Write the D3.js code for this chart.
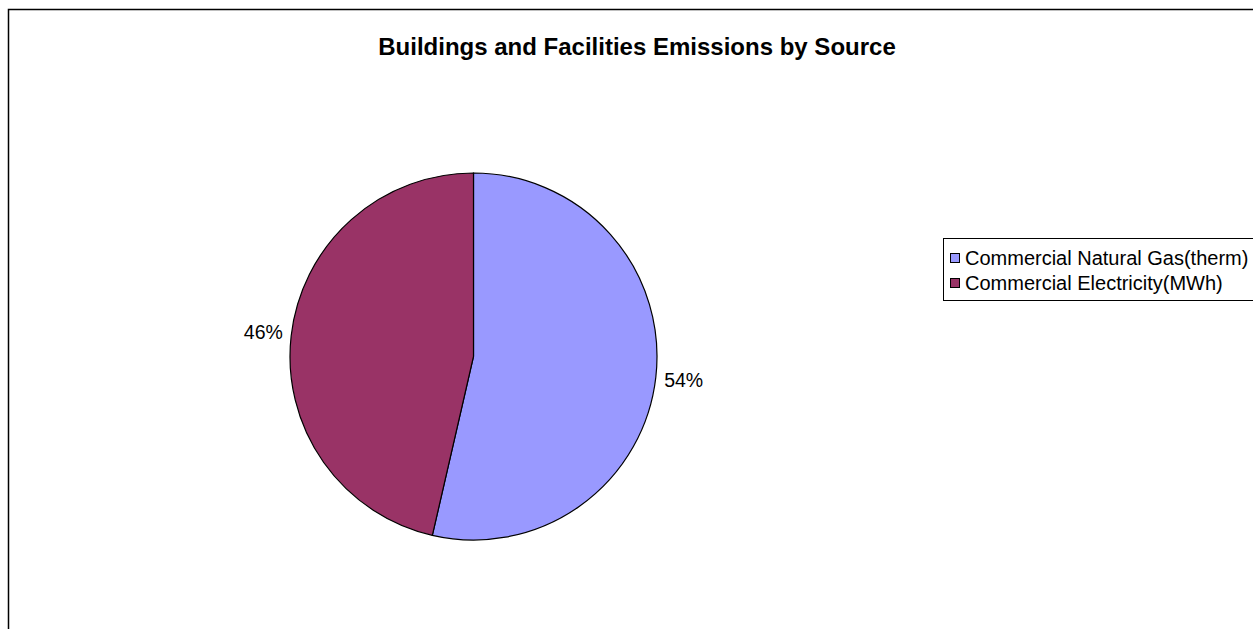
<!DOCTYPE html>
<html>
<head>
<meta charset="utf-8">
<script src="https://cdn.jsdelivr.net/npm/d3@7"></script>
<style>
html,body{margin:0;padding:0;background:#fff;}
svg{display:block;}
</style>
</head>
<body>
<svg id="chart" width="1253" height="629"></svg>
<script>
const title = "Buildings and Facilities Emissions by Source";
const categories = ["Commercial Natural Gas(therm)", "Commercial Electricity(MWh)"];
const values = [53.6, 46.4];
const labels = ["54%", "46%"];
const colors = ["#9999FF", "#993366"];

const svg = d3.select("#chart");
const W = 1253, H = 629;
const font = "Liberation Sans, Arial, sans-serif";

// outer frame
svg.append("rect")
  .attr("x", 8.5).attr("y", 9.5)
  .attr("width", W + 10).attr("height", H + 10)
  .attr("fill", "#fff").attr("stroke", "#000").attr("stroke-width", 1.5);

svg.append("text")
  .attr("x", 637).attr("y", 55)
  .attr("text-anchor", "middle")
  .attr("font-family", font)
  .attr("font-weight", "bold").attr("font-size", 24)
  .text(title);

const cx = 473.5, cy = 356.5, r = 183.5;
const pie = d3.pie().sort(null).value(d => d)(values);
const arc = d3.arc().innerRadius(0).outerRadius(r);
const g = svg.append("g").attr("transform", `translate(${cx},${cy})`);
g.selectAll("path").data(pie).join("path")
  .attr("d", arc)
  .attr("fill", (d, i) => colors[i])
  .attr("stroke", "#000").attr("stroke-width", 1.2);

const labelArc = d3.arc().innerRadius(r + 28).outerRadius(r + 28);
g.selectAll("text.lbl").data(pie).join("text")
  .attr("class", "lbl")
  .attr("transform", d => `translate(${labelArc.centroid(d)})`)
  .attr("text-anchor", "middle").attr("dy", "0.35em")
  .attr("font-family", font)
  .attr("font-size", 19.5)
  .text((d, i) => labels[i]);

// legend
const lx = 943, ly = 238;
const lg = svg.append("g");
lg.append("rect").attr("x", lx + 0.5).attr("y", ly + 0.5)
  .attr("width", 330).attr("height", 62)
  .attr("fill", "#fff").attr("stroke", "#000").attr("stroke-width", 1);
categories.forEach((c, i) => {
  const y = ly + 20 + i * 25;
  lg.append("rect").attr("x", lx + 7.5).attr("y", y - 4.5)
    .attr("width", 9).attr("height", 9)
    .attr("fill", colors[i]).attr("stroke", "#000").attr("stroke-width", 1);
  lg.append("text").attr("x", lx + 22).attr("y", y + 7)
    .attr("font-family", font)
    .attr("font-size", 20)
    .text(c);
});
</script>
</body>
</html>
